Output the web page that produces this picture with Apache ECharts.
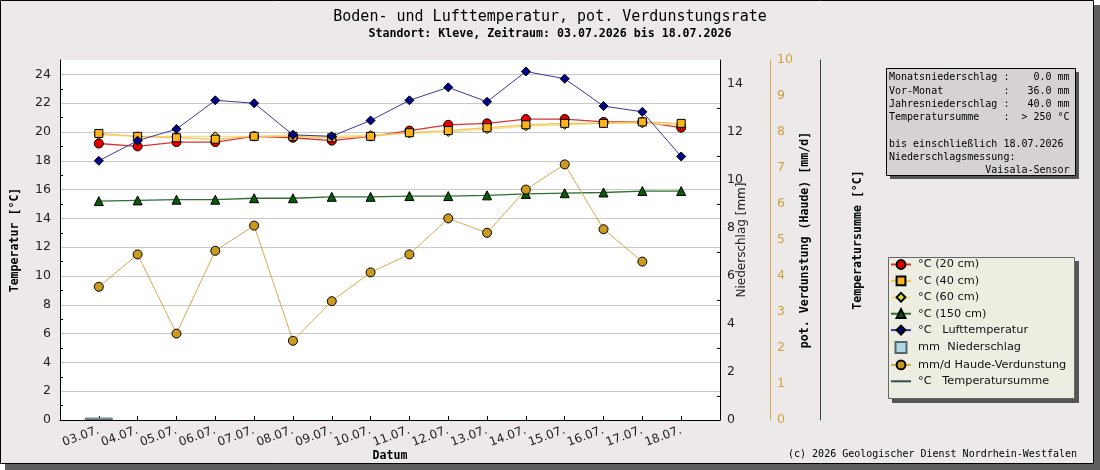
<!DOCTYPE html>
<html>
<head>
<meta charset="utf-8">
<script src="https://cdn.jsdelivr.net/npm/echarts@6/dist/echarts.min.js"></script>
<style>
html,body{margin:0;padding:0;background:#fff;}
#chart{width:1100px;height:470px;}
</style>
</head>
<body>
<div id="chart"></div>
<script>
// ---- data ----
const categories = ['03.07.','04.07.','05.07.','06.07.','07.07.','08.07.','09.07.','10.07.','11.07.','12.07.','13.07.','14.07.','15.07.','16.07.','17.07.','18.07.'];
const soil20  = [19.2, 19.0, 19.3, 19.3, 19.7, 19.6, 19.4, 19.7, 20.1, 20.5, 20.6, 20.9, 20.9, 20.7, 20.7, 20.3];
const soil40  = [19.9, 19.7, 19.6, 19.5, 19.7, 19.7, 19.6, 19.7, 19.95, 20.1, 20.3, 20.5, 20.6, 20.6, 20.7, 20.6];
const soil60  = [19.8, 19.7, 19.7, 19.7, 19.7, 19.8, 19.7, 19.8, 19.9, 20.0, 20.2, 20.4, 20.5, 20.6, 20.6, 20.5];
const soil150 = [15.2, 15.25, 15.3, 15.3, 15.4, 15.4, 15.5, 15.5, 15.55, 15.55, 15.6, 15.7, 15.75, 15.8, 15.9, 15.9];
const airTemp = [18.0, 19.4, 20.2, 22.2, 22.0, 19.8, 19.7, 20.8, 22.2, 23.1, 22.1, 24.2, 23.7, 21.8, 21.4, 18.3];
const precip  = [0.1, 0, 0, 0, 0, 0, 0, 0, 0, 0, 0, 0, 0, 0, 0, 0];
const haude   = [3.7, 4.6, 2.4, 4.7, 5.4, 2.2, 3.3, 4.1, 4.6, 5.6, 5.2, 6.4, 7.1, 5.3, 4.4, null];
const tempSum = [null, null, null, null, null, null, null, null, null, null, null, null, null, null, null, null];

const seriesNames = ['°C (20 cm)','°C (40 cm)','°C (60 cm)','°C (150 cm)','°C   Lufttemperatur','mm  Niederschlag','mm/d Haude-Verdunstung','°C   Temperatursumme'];
const infoLines = [
  'Monatsniederschlag :    0.0 mm',
  'Vor-Monat          :   36.0 mm',
  'Jahresniederschlag :   40.0 mm',
  'Temperatursumme    :  > 250 °C',
  '',
  'bis einschließlich 18.07.2026',
  'Niederschlagsmessung:',
  '                Vaisala-Sensor'
];

// ---- build ----
const pad = a => [null, ...a, null];
const xCats = ['', ...categories, ''];
const MONO = '"DejaVu Sans Mono", monospace';
const SANS = '"DejaVu Sans", sans-serif';

const chart = echarts.init(document.getElementById('chart'), null, {renderer:'canvas'});

function lineSeries(name, data, yIdx, symbol, size, fill, lineColor, lw) {
  return {
    name, type:'line', data: pad(data), yAxisIndex: yIdx,
    symbol, symbolSize: size, showAllSymbol: true, connectNulls: false,
    itemStyle:{color: fill, borderColor:'#000', borderWidth:1},
    lineStyle:{color: lineColor, width: lw},
    emphasis:{disabled:true}, animation:false
  };
}

const legendIcons = {
  'mm  Niederschlag': 'path://M0,0h10v10h-10z',
  '°C   Temperatursumme': 'path://M0,0h20v2h-20z'
};

const option = {
  animation:false,
  backgroundColor:'#ffffff',
  title:{
    text:'Boden- und Lufttemperatur, pot. Verdunstungsrate',
    subtext:'Standort: Kleve, Zeitraum: 03.07.2026 bis 18.07.2026',
    left:'center', top:5, itemGap:3,
    textStyle:{fontFamily:MONO, fontSize:15, fontWeight:'normal', color:'#000'},
    subtextStyle:{fontFamily:MONO, fontSize:11.6, fontWeight:'bold', color:'#000'}
  },
  graphic:[
    {type:'rect', z:-10, silent:true, shape:{x:5, y:5, width:1095, height:465}, style:{fill:'#5f5f5f'}},
    {type:'rect', z:-9, silent:true, shape:{x:0.5, y:0.5, width:1093, height:463}, style:{fill:'#ece9e8', stroke:'#000', lineWidth:1}},
    // info box
    {type:'rect', z:-8, silent:true, shape:{x:890, y:72, width:189, height:107}, style:{fill:'#555'}},
    {type:'rect', z:-7, silent:true, shape:{x:886.5, y:68.5, width:189, height:107}, style:{fill:'#d5d2d1', stroke:'#000', lineWidth:1}},
    {type:'text', z:-6, silent:true, x:889, y:71, style:{text: infoLines.join('\n'), font:'10px ' + MONO, fill:'#000', lineHeight:13.3}},
    // legend box
    {type:'rect', z:-8, silent:true, shape:{x:892, y:261, width:187, height:142}, style:{fill:'#555'}},
    {type:'rect', z:-7, silent:true, shape:{x:888.5, y:257.5, width:186, height:141}, style:{fill:'#eeede2', stroke:'#666', lineWidth:1}},
    // copyright
    {type:'text', z:-6, silent:true, x:1077, y:449, style:{text:'(c) 2026 Geologischer Dienst Nordrhein-Westfalen', font:'10px ' + MONO, fill:'#000', align:'right'}}
  ],
  legend:{
    orient:'vertical', left:890, top:259, padding:0,
    itemWidth:20, itemHeight:11, itemGap:5.4,
    data: seriesNames.map(n => legendIcons[n] ? {name:n, icon:legendIcons[n]} : {name:n}),
    textStyle:{fontFamily:SANS, fontSize:11.3, color:'#111', padding:[0,0,0,2]},
    selectedMode:false
  },
  grid:{left:60, right:380, top:60, bottom:50, show:true, backgroundColor:'#ffffff', borderWidth:0},
  xAxis:{
    type:'category', data:xCats, boundaryGap:false,
    axisLine:{lineStyle:{color:'#000', width:1}},
    axisTick:{inside:true, length:4, interval:0, lineStyle:{color:'#000'}},
    axisLabel:{interval:0, rotate:20, margin:10, fontFamily:SANS, fontSize:12, color:'#222'},
    splitLine:{show:false},
    name:'Datum', nameLocation:'middle', nameGap:30, nameMoveOverlap:false,
    nameTextStyle:{fontFamily:MONO, fontWeight:'bold', fontSize:11.6, color:'#000'}
  },
  yAxis:[
    {
      type:'value', position:'left', min:0, max:25, interval:2,
      axisLine:{show:true, lineStyle:{color:'#000'}},
      axisTick:{inside:true, length:5, lineStyle:{color:'#000'}},
      minorTick:{show:true, splitNumber:2, length:3, lineStyle:{color:'#000'}},
      axisLabel:{margin:9, fontFamily:SANS, fontSize:12.5, color:'#222', showMaxLabel:false},
      splitLine:{show:true, showMaxLine:false, lineStyle:{color:'#c8c8c8', width:1}},
      name:'Temperatur [°C]', nameLocation:'middle', nameGap:39, nameRotate:90, nameMoveOverlap:false,
      nameTextStyle:{fontFamily:MONO, fontWeight:'bold', fontSize:11.6, color:'#000'}
    },
    {
      type:'value', position:'right', min:0, max:15, interval:2,
      axisLine:{show:true, lineStyle:{color:'#000'}},
      axisTick:{inside:true, length:5, lineStyle:{color:'#000'}},
      minorTick:{show:true, splitNumber:2, length:3, lineStyle:{color:'#000'}},
      axisLabel:{margin:7, fontFamily:SANS, fontSize:12.5, color:'#222', showMaxLabel:false},
      splitLine:{show:false},
      name:'Niederschlag [mm]', nameLocation:'middle', nameGap:16, nameRotate:90, nameMoveOverlap:false,
      nameTextStyle:{fontFamily:SANS, fontSize:12, color:'#222'}
    },
    {
      type:'value', position:'right', offset:50, min:0, max:10, interval:1,
      axisLine:{show:true, lineStyle:{color:'#d4a64a'}},
      axisTick:{inside:true, length:5, lineStyle:{color:'#d4a64a'}},
      axisLabel:{margin:7, fontFamily:SANS, fontSize:12.5, color:'#d0a040'},
      splitLine:{show:false},
      name:'pot. Verdunstung (Haude) [mm/d]', nameLocation:'middle', nameGap:29, nameRotate:90, nameMoveOverlap:false,
      nameTextStyle:{fontFamily:MONO, fontWeight:'bold', fontSize:11.6, color:'#000'}
    },
    {
      type:'value', position:'right', offset:100, min:0, max:1,
      axisLine:{show:true, lineStyle:{color:'#2f4f4f'}},
      axisTick:{show:false}, axisLabel:{show:false}, splitLine:{show:false},
      name:'Temperatursumme [°C]', nameLocation:'middle', nameGap:32, nameRotate:90, nameMoveOverlap:false,
      nameTextStyle:{fontFamily:MONO, fontWeight:'bold', fontSize:11.6, color:'#000'}
    }
  ],
  series:[
    {
      name:'mm  Niederschlag', type:'bar', yAxisIndex:1,
      data: pad(precip.map(v => v > 0 ? v : null)), barWidth:28,
      itemStyle:{color:'#add8e6', borderColor:'#56666c', borderWidth:1},
      emphasis:{disabled:true}, animation:false
    },
    {
      name:'°C   Temperatursumme', type:'line', yAxisIndex:3, data: pad(tempSum), symbol:'none',
      lineStyle:{color:'#2f4f4f', width:2}, itemStyle:{color:'#2f4f4f'}, animation:false
    },
    lineSeries('°C (20 cm)', soil20, 0, 'circle', 9, '#e80000', '#d83434', 1.3),
    lineSeries('°C (60 cm)', soil60, 0, 'diamond', 9, '#e6de22', '#f2e38a', 1.3),
    lineSeries('°C (40 cm)', soil40, 0, 'rect', 8, '#fbb51c', '#f8c25a', 1.3),
    lineSeries('°C (150 cm)', soil150, 0, 'triangle', 9, '#0b5a0b', '#2f6f2f', 1.3),
    lineSeries('°C   Lufttemperatur', airTemp, 0, 'diamond', 9, '#000088', '#3a3a98', 1),
    lineSeries('mm/d Haude-Verdunstung', haude, 2, 'circle', 9, '#cc9a1e', '#d8aa50', 1)
  ]
};
chart.setOption(option);
</script>
</body>
</html>
